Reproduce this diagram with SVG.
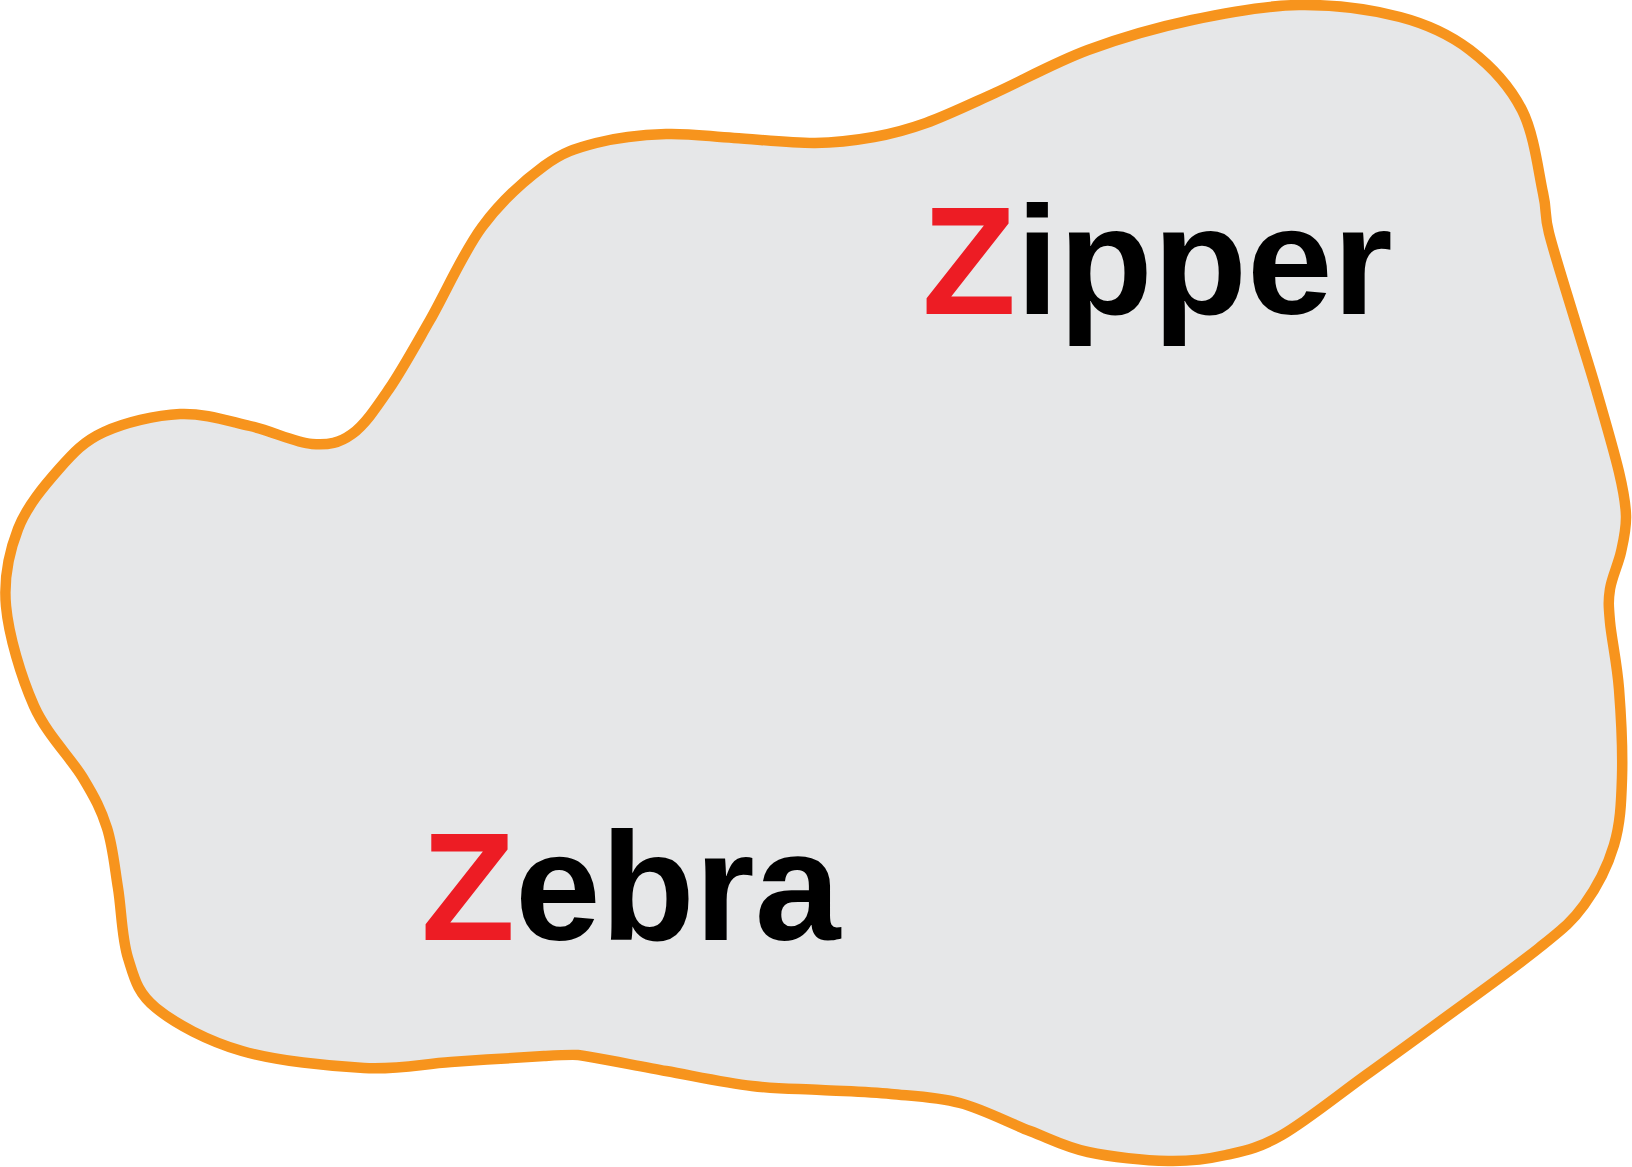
<svg xmlns="http://www.w3.org/2000/svg" width="1632" height="1167" viewBox="0 0 1632 1167">
<style>
.blob{fill:#E6E7E8;stroke:#F7941D;stroke-width:10.5;stroke-linejoin:round}
.lbl{font-family:"Liberation Sans",Arial,Helvetica,sans-serif;font-weight:bold;font-size:154px;fill:#000000}
.z{fill:#ED1C24}
</style>
<rect width="1632" height="1167" fill="#FFFFFF"/>
<g id="blob">
<path class="blob" d="M6,606 C3.3,576.5 9.2,551.8 18,529 C26.8,506.2 44.7,485.2 59,469 C73.3,452.8 83.8,441.2 104,432 C124.2,422.8 155.7,415 180,414 C204.3,413 228,421 250,426 C272,431 295,442.7 312,444 C329,445.3 339.2,443.2 352,434 C364.8,424.8 376,408 389,389 C402,370 414.5,347 430,320 C445.5,293 463,252.7 482,227 C501,201.3 525,180 544,166 C563,152 575.7,148.3 596,143 C616.3,137.7 643,134.8 666,134 C689,133.2 709.2,136.5 734,138 C758.8,139.5 791.7,143.2 815,143 C838.3,142.8 855.5,140.3 874,137 C892.5,133.7 905.8,130.3 926,123 C946.2,115.7 968,105.2 995,93 C1022,80.8 1055.2,62.2 1088,50 C1120.8,37.8 1156.8,27.5 1192,20 C1227.2,12.5 1264.3,5.5 1299,5 C1333.7,4.5 1371.5,9.5 1400,17 C1428.5,24.5 1449.7,34.5 1470,50 C1490.3,65.5 1509.8,86.2 1522,110 C1534.2,133.8 1538.5,172.5 1543,193 C1547.5,213.5 1543.8,212.3 1549,233 C1554.2,253.7 1566.2,291 1574,317 C1581.8,343 1588.5,363.2 1596,389 C1603.5,414.8 1614,450.8 1619,472 C1624,493.2 1625.7,502.7 1626,516 C1626.3,529.3 1623.7,539.8 1621,552 C1618.3,564.2 1611.8,577.3 1610,589 C1608.2,600.7 1608.5,605.3 1610,622 C1611.5,638.7 1617,663 1619,689 C1621,715 1622.8,752 1622,778 C1621.2,804 1620.3,823.8 1614,845 C1607.7,866.2 1596.5,887.8 1584,905 C1571.5,922.2 1563.8,928 1539,948 C1514.2,968 1463.8,1003.8 1435,1025 C1406.2,1046.2 1391.5,1056.7 1366,1075 C1340.5,1093.3 1305.3,1121.7 1282,1135 C1258.7,1148.3 1245,1150.7 1226,1155 C1207,1159.3 1191,1161.5 1168,1161 C1145,1160.5 1111,1157 1088,1152 C1065,1147 1051.3,1139.2 1030,1131 C1008.7,1122.8 983.2,1109.2 960,1103 C936.8,1096.8 914.2,1096.2 891,1094 C867.8,1091.8 844.2,1091.3 821,1090 C797.8,1088.7 777.8,1089.2 752,1086 C726.2,1082.8 695,1076.2 666,1071 C637,1065.8 586,1055.5 578,1055 C570,1054.5 565.2,1054.8 544,1056 C522.8,1057.2 481,1060 451,1062 C421,1064 398.8,1069.8 364,1068 C329.2,1066.2 276.7,1061 242,1051 C207.3,1041 175,1023.5 156,1008 C137,992.5 134.3,978 128,958 C121.7,938 121.5,909.7 118,888 C114.5,866.3 112.8,846.3 107,828 C101.2,809.7 95.2,798.3 83,778 C70.8,757.7 46.8,734.7 34,706 C21.2,677.3 8.7,635.5 6,606 Z"/>
</g>
<g id="label-zipper">
<text class="lbl" x="922" y="314"><tspan class="z">Z</tspan>ipper</text>
</g>
<g id="label-zebra">
<text class="lbl" x="421" y="940"><tspan class="z">Z</tspan>ebra</text>
</g>
</svg>
